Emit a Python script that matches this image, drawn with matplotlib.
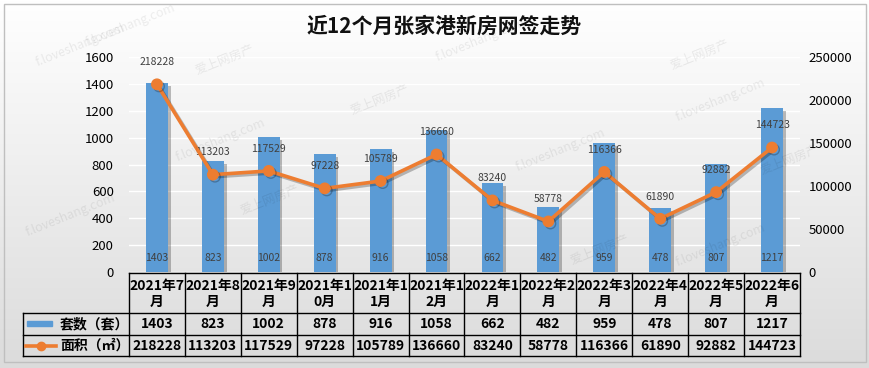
import matplotlib.pyplot as plt
import matplotlib.patheffects as pe
import numpy as np
from matplotlib.lines import Line2D
from matplotlib.patches import Rectangle

plt.rcParams['font.family'] = ['Noto Sans CJK SC', 'DejaVu Sans']

months = ['2021年7月', '2021年8月', '2021年9月', '2021年10月', '2021年11月', '2021年12月',
          '2022年1月', '2022年2月', '2022年3月', '2022年4月', '2022年5月', '2022年6月']
header_lines = [('2021年7', '月'), ('2021年8', '月'), ('2021年9', '月'), ('2021年1', '0月'),
                ('2021年1', '1月'), ('2021年1', '2月'), ('2022年1', '月'), ('2022年2', '月'),
                ('2022年3', '月'), ('2022年4', '月'), ('2022年5', '月'), ('2022年6', '月')]
counts = [1403, 823, 1002, 878, 916, 1058, 662, 482, 959, 478, 807, 1217]
areas = [218228, 113203, 117529, 97228, 105789, 136660, 83240, 58778, 116366, 61890, 92882, 144723]
count_name = '套数（套）'
area_name = '面积（㎡）'
title = '近12个月张家港新房网签走势'

W, H = 870, 368
BLUE = '#5B9BD5'
ORANGE = '#ED7D31'

fig = plt.figure(figsize=(W / 100, H / 100), dpi=100)

# background gradient
bg = fig.add_axes([0, 0, 1, 1], zorder=-10)
grad = np.linspace(1.0, 0.0, 256).reshape(-1, 1)
top = np.array([1.0, 1.0, 1.0])
bot = np.array([0.86, 0.86, 0.86])
img = grad[..., None] * top + (1 - grad[..., None]) * bot
bg.imshow(img, aspect='auto', extent=[0, 1, 0, 1], origin='upper')
bg.set_xlim(0, 1)
bg.set_ylim(0, 1)
bg.axis('off')


def fx(px):
    return px / W


def fy(py):
    return 1 - py / H


# outer frame
fig.add_artist(Rectangle((fx(4), fy(362)), fx(862), (362 - 4) / H, fill=False,
                         edgecolor='#bfbfbf', lw=1, transform=fig.transFigure))

# watermarks
wm = [(80, 45, 'f.loveshang.com'), (130, 25, 'f.loveshang.com'), (225, 60, '爱上网房产'),
      (220, 140, 'f.loveshang.com'), (270, 200, '爱上网房产'), (480, 40, 'f.loveshang.com'),
      (700, 55, '爱上网房产'), (790, 160, '爱上网房产'), (720, 100, 'f.loveshang.com'),
      (70, 215, 'f.loveshang.com'), (560, 150, 'f.loveshang.com'), (600, 250, '爱上网房产'),
      (380, 100, '爱上网房产'), (720, 245, 'f.loveshang.com')]
for x, y, s in wm:
    fig.text(fx(x), fy(y), s, rotation=22, color='#000000', alpha=0.07, fontsize=9,
             ha='center', va='center')

x0, x1, y0, y1 = 129, 800, 57, 272
ax = fig.add_axes([fx(x0), fy(y1), fx(x1 - x0), (y1 - y0) / H])
ax.patch.set_alpha(0)
ax2 = ax.twinx()

x = np.arange(len(months))
shadow = [pe.SimplePatchShadow(offset=(2, -2), shadow_rgbFace='#000000', alpha=0.25), pe.Normal()]
bars = ax.bar(x, counts, width=0.39, color=BLUE, zorder=3)
for b in bars:
    b.set_path_effects(shadow)
ax.set_ylim(0, 1600)
ax.set_yticks(range(0, 1601, 200))
ax.set_xlim(-0.5, len(months) - 0.5)
ax.set_xticks([])
ax.grid(axis='y', color='white', lw=1, zorder=0)
ax.set_axisbelow(True)
for s in ax.spines.values():
    s.set_visible(False)
for s in ax2.spines.values():
    s.set_visible(False)
ax.tick_params(axis='y', length=0, pad=11, labelsize=9.5)

for xi, v in zip(x, counts):
    ax.annotate(str(v), (xi, 0), xytext=(0, 10), textcoords='offset points',
                ha='center', va='center', fontsize=7.5, color='#404040', zorder=5)

ax2.plot(x, areas, color=ORANGE, lw=2.6, marker='o', markersize=7.5, zorder=4,
         path_effects=[pe.SimpleLineShadow(offset=(1.5, -1.5), alpha=0.25), pe.Normal()])
ax2.set_ylim(0, 250000)
ax2.set_yticks(range(0, 250001, 50000))
ax2.tick_params(axis='y', length=0, pad=6, labelsize=9.5)
for xi, v in zip(x, areas):
    ax2.annotate(str(v), (xi, v), xytext=(0, 16), textcoords='offset points',
                 ha='center', va='center', fontsize=7.5, color='#404040')

fig.text(fx(444), fy(26), title, ha='center', va='center', fontsize=15, fontweight='bold',
         color='#111111')

# data table
cw = (x1 - x0) / len(months)
lk = dict(color='black', lw=1, transform=fig.transFigure)
rows = [273, 313, 335, 356]
fig.add_artist(Line2D([fx(x0), fx(x1)], [fy(rows[0])] * 2, **lk))
for r in rows[1:]:
    fig.add_artist(Line2D([fx(23), fx(x1)], [fy(r)] * 2, **lk))
for i in range(len(months) + 1):
    xx = x0 + i * cw
    fig.add_artist(Line2D([fx(xx)] * 2, [fy(rows[0]), fy(rows[3])], **lk))
fig.add_artist(Line2D([fx(23)] * 2, [fy(rows[1]), fy(rows[3])], **lk))

tk = dict(ha='center', va='center', fontsize=10, fontweight='bold', color='black')
for i, (a, b) in enumerate(header_lines):
    cx = x0 + (i + 0.5) * cw
    fig.text(fx(cx), fy(286), a, **tk)
    fig.text(fx(cx), fy(302), b, **tk)
    fig.text(fx(cx), fy(324), str(counts[i]), **tk)
    fig.text(fx(cx), fy(346), str(areas[i]), **tk)

fig.add_artist(Rectangle((fx(27), fy(326)), fx(25), 5 / H, color=BLUE,
                         transform=fig.transFigure))
fig.add_artist(Line2D([fx(26), fx(56)], [fy(346)] * 2, color=ORANGE, lw=2.6,
                      transform=fig.transFigure))
fig.add_artist(Line2D([fx(41)], [fy(346)], color=ORANGE, marker='o', markersize=6,
                      transform=fig.transFigure))
fig.text(fx(60), fy(324), count_name, ha='left', va='center', fontsize=10, fontweight='bold')
fig.text(fx(60), fy(346), area_name, ha='left', va='center', fontsize=10, fontweight='bold')

fig.savefig('out.png', dpi=100)
